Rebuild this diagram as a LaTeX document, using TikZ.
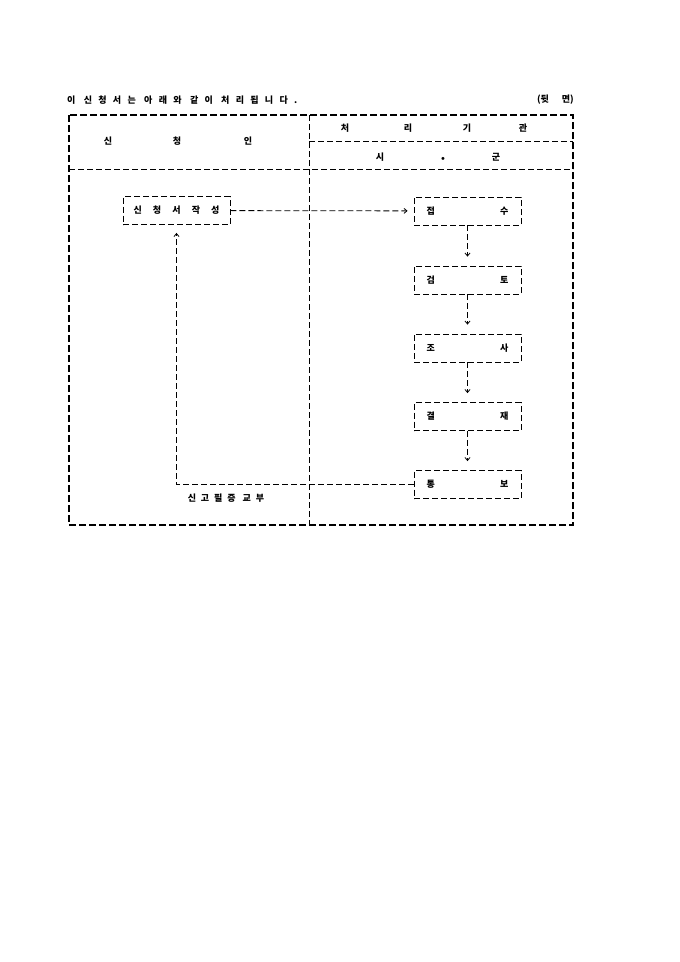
\documentclass[tikz,border=0pt]{standalone}
\usepackage{fontspec}
\newfontfamily\kr{Noto Sans CJK KR}
\newfontfamily\krt{Noto Sans CJK KR}[LetterSpace=70]
\newfontfamily\krs{Noto Sans CJK KR}[LetterSpace=55]
\usetikzlibrary{arrows.meta}
\begin{document}
\begin{tikzpicture}[x=1pt,y=-1pt,
  font=\kr\bfseries\fontsize{9pt}{11pt}\selectfont,
  frame/.style={line width=1.8pt, dash pattern=on 7pt off 3pt},
  thinline/.style={line width=0.8pt, dash pattern=on 6pt off 3pt},
  stepbox/.style={thinline, draw, minimum width=107pt, minimum height=28pt, inner sep=0pt},
  arr/.style={thinline, -{Straight Barb[length=3pt,width=5pt]}},
  lbl/.style={inner sep=0pt}]
\useasboundingbox (0,0) rectangle (680,962);
\fill[white] (0,0) rectangle (680,962);
% title
\node[lbl, anchor=west] (title) at (67,100) {\krt\bfseries 이 신청서는 아래와 같이 처리됩니다.};
\node[lbl, anchor=east] (back) at (574,100) {(뒷\hspace{13pt}면)};
% frame
\coordinate (tl) at (69,115);
\coordinate (br) at (573,525);
\draw[frame] (tl) rectangle (br);
\draw[thinline] (309,115) -- (309,525);
\draw[thinline] (309,141) -- (573,141);
\draw[thinline] (69,169) -- (573,169);
% header labels
\node[lbl] (h1) at (108,141) {신};
\node[lbl] (h2) at (177,141) {청};
\node[lbl] (h3) at (248,141) {인};
\node[lbl] (r1) at (345,128.5) {처};
\node[lbl] (r2) at (408,128.5) {리};
\node[lbl] (r3) at (467,128.5) {기};
\node[lbl] (r4) at (523,128.5) {관};
\node[lbl] (g1) at (380,157) {시};
\node[lbl] (g2) at (443,160.5) {\fontsize{15pt}{15pt}\selectfont ㆍ};
\node[lbl] (g3) at (496,157) {군};
% boxes
\node[stepbox] (app) at (176.5,210.5) {\makebox[86pt]{신\hfill 청\hfill 서\hfill 작\hfill 성}};
\node[stepbox] (s1) at (467.5,211) {\makebox[82pt]{접\hfill 수}};
\node[stepbox] (s2) at (467.5,280) {\makebox[82pt]{검\hfill 토}};
\node[stepbox] (s3) at (467.5,348) {\makebox[82pt]{조\hfill 사}};
\node[stepbox] (s4) at (467.5,416.5) {\makebox[82pt]{결\hfill 재}};
\node[stepbox] (s5) at (467.5,484.5) {\makebox[82pt]{통\hfill 보}};
% connectors
\draw[arr, shorten >=6pt] (app) -- (s1);
\draw[arr, shorten >=9pt] (s1) -- (s2);
\draw[arr, shorten >=9pt] (s2) -- (s3);
\draw[arr, shorten >=9pt] (s3) -- (s4);
\draw[arr, shorten >=9pt] (s4) -- (s5);
\draw[arr, shorten >=8pt] (s5.west) -| (app.south);
\node[lbl] (issue) at (226,498) {\krs\bfseries 신고필증 교부};
\end{tikzpicture}
\end{document}
